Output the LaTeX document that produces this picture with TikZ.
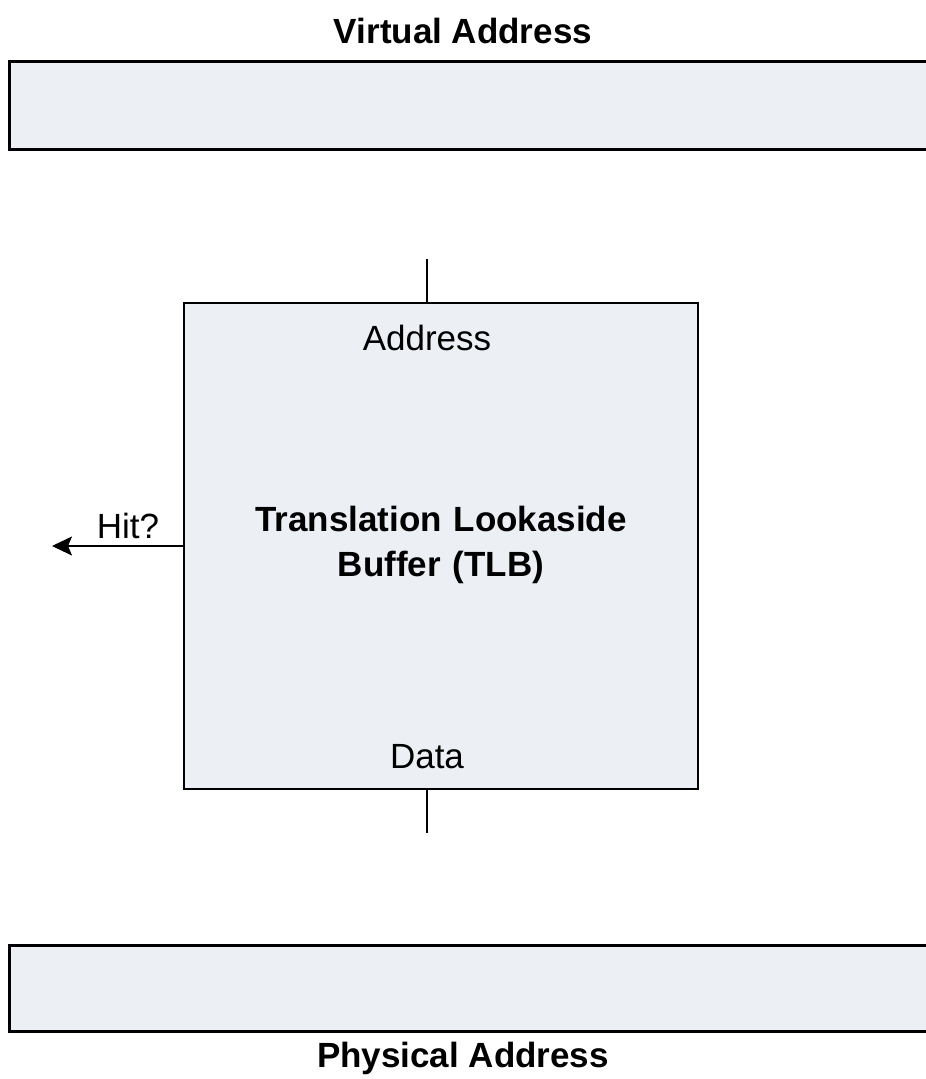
\documentclass[tikz,border=0pt]{standalone}
\usepackage{fontspec}
\setmainfont{Liberation Sans}
\usetikzlibrary{arrows.meta}
\definecolor{boxfill}{RGB}{236,239,244}
\tikzset{
  bar/.style={draw=black, line width=3pt, fill=boxfill},
  tlbbox/.style={draw=black, line width=2pt, fill=boxfill},
  wire/.style={draw=black, line width=2pt},
  lbl/.style={font=\fontsize{35}{42}\selectfont, inner sep=0pt},
  blbl/.style={font=\fontsize{35}{42}\selectfont\bfseries, inner sep=0pt, align=center}
}
\begin{document}
\begin{tikzpicture}[x=1pt,y=-1pt]
\useasboundingbox (0,0) rectangle (926,1079);
\clip (0,0) rectangle (926,1079);
% bars
\draw[bar] (9,61) rectangle (960,149);
\draw[bar] (9,945) rectangle (960,1031);
\node[blbl] (vat) at (463,31) {Virtual Address};
\node[blbl] (pat) at (463,1058) {Physical Address};
% TLB
\node[tlbbox, minimum width=514pt, minimum height=486pt, inner sep=0pt] (tlb) at (441,546) {};
\node[blbl, text width=500pt] (tlbt) at (441,545) {Translation Lookaside\\[3pt]Buffer (TLB)};
\node[lbl] (addr) at (427,338) {Address};
\node[lbl] (data) at (427,757) {Data};
\coordinate (intop) at (427,259);
\coordinate (outbot) at (427,833);
\coordinate (hitend) at (52,546);
\draw[wire] (intop) -- (tlb.north -| intop);
\draw[wire] (tlb.south -| outbot) -- (outbot);
\draw[wire, -{Stealth[length=20pt,width=19pt,inset=4pt]}] (tlb.west) -- (hitend);
\node[lbl] (hit) at (128,526) {Hit?};
\end{tikzpicture}
\end{document}
